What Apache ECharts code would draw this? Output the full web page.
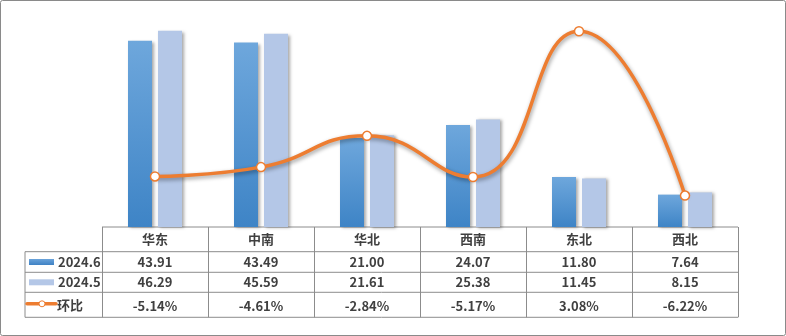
<!DOCTYPE html>
<html><head><meta charset="utf-8">
<script src="https://cdn.jsdelivr.net/npm/echarts@6/dist/echarts.min.js"></script>
<style>html,body{margin:0;padding:0;background:#fff}#c{width:786px;height:336px}</style>
</head><body><div id="c"></div>
<script>
const categories = ['华东','中南','华北','西南','东北','西北'];
const jun = [43.91, 43.49, 21.00, 24.07, 11.80, 7.64];
const may = [46.29, 45.59, 21.61, 25.38, 11.45, 8.15];
const mom = [-5.14, -4.61, -2.84, -5.17, 3.08, -6.22];
const seriesNames = ['2024.6', '2024.5', '环比'];

const chart = echarts.init(document.getElementById('c'), null, {renderer:'canvas'});
const L = 102, R = 738, TOP = 15, BOT = 227;
const cw = (R - L) / categories.length;
const rowY = [227, 251.7, 272.3, 292.3, 317.3];
const LEG = 25;
const lineCol = '#8c8c8c';
const txtCol = '#404040';
const font = '"Noto Sans CJK SC", "Microsoft YaHei", sans-serif';

const g = [];
g.push({type:'rect', shape:{x:0.5,y:0.5,width:785,height:335,r:2}, style:{fill:null, stroke:'#8a8a8a', lineWidth:1}, silent:true});
function hline(x1,x2,y){ g.push({type:'line', shape:{x1:x1,y1:y,x2:x2,y2:y}, style:{stroke:lineCol, lineWidth:1}, silent:true}); }
function vline(x,y1,y2){ g.push({type:'line', shape:{x1:x,y1:y1,x2:x,y2:y2}, style:{stroke:lineCol, lineWidth:1}, silent:true}); }
hline(L, R, rowY[0]);
for (let k = 1; k < rowY.length; k++) hline(LEG, R, rowY[k]);
vline(LEG, rowY[1], rowY[4]);
for (let i = 0; i <= categories.length; i++) vline(Math.round(L + i*cw)+0.5, rowY[0], rowY[4]);
function txt(x, y, s, align){ g.push({type:'text', x:x, y:y, style:{text:s, fill:txtCol, font:'bold 13px ' + font, textAlign:align||'center', textVerticalAlign:'middle'}, silent:true}); }
const rows = [categories, jun.map(v=>v.toFixed(2)), may.map(v=>v.toFixed(2)), mom.map(v=>v.toFixed(2)+'%')];
rows.forEach((r, k) => {
  const cy = (rowY[k] + rowY[k+1]) / 2 + (k===3 ? 1 : 0);
  r.forEach((s, i) => txt(L + (i+0.5)*cw, cy, s));
});
// legend column
const c1 = (rowY[1]+rowY[2])/2, c2 = (rowY[2]+rowY[3])/2, c3 = (rowY[3]+rowY[4])/2;
g.push({type:'rect', shape:{x:29,y:c1-3,width:25,height:6}, style:{fill:new echarts.graphic.LinearGradient(0,0,0,1,[{offset:0,color:'#6aa3da'},{offset:1,color:'#3f82c4'}])}, silent:true});
g.push({type:'rect', shape:{x:29,y:c2-3,width:25,height:6}, style:{fill:'#b4c7e7'}, silent:true});
g.push({type:'line', shape:{x1:27,y1:c3-1,x2:56,y2:c3-1}, style:{stroke:'#ed7d31', lineWidth:3.5, lineCap:'round'}, silent:true});
g.push({type:'circle', shape:{cx:42,cy:c3-1,r:3}, style:{fill:'#fff', stroke:'#ed7d31', lineWidth:1}, silent:true});
txt(58, c1, seriesNames[0], 'left');
txt(58, c2, seriesNames[1], 'left');
txt(57, c3, seriesNames[2], 'left');

const shadow = {shadowColor:'rgba(0,0,0,0.35)', shadowBlur:3, shadowOffsetX:2, shadowOffsetY:1};
chart.setOption({
  animation:false,
  grid:{left:L, right:786-R, top:TOP, bottom:336-BOT},
  xAxis:{type:'category', data:categories, axisLine:{show:false}, axisTick:{show:false}, axisLabel:{show:false}},
  yAxis:[
    {type:'value', min:0, max:50, show:false},
    {type:'value', min:-8, max:4, show:false}
  ],
  series:[
    {name:seriesNames[0], type:'bar', data:jun, barWidth:24, barGap:'25%',
     itemStyle:Object.assign({color:new echarts.graphic.LinearGradient(0,0,0,1,[{offset:0,color:'#6ea7dc'},{offset:1,color:'#3e84c6'}])}, shadow)},
    {name:seriesNames[1], type:'bar', data:may, barWidth:24,
     itemStyle:Object.assign({color:'#b4c7e7'}, shadow)},
    {name:seriesNames[2], type:'line', yAxisIndex:1, data:mom, smooth:0.5,
     symbol:'circle', symbolSize:9, showAllSymbol:true,
     lineStyle:{color:'#ed7d31', width:3.5, shadowColor:'rgba(0,0,0,0.4)', shadowBlur:4, shadowOffsetX:1, shadowOffsetY:2},
     itemStyle:{color:'#fff', borderColor:'#ed7d31', borderWidth:1.5}, z:5}
  ],
  graphic:g
});
</script></body></html>
